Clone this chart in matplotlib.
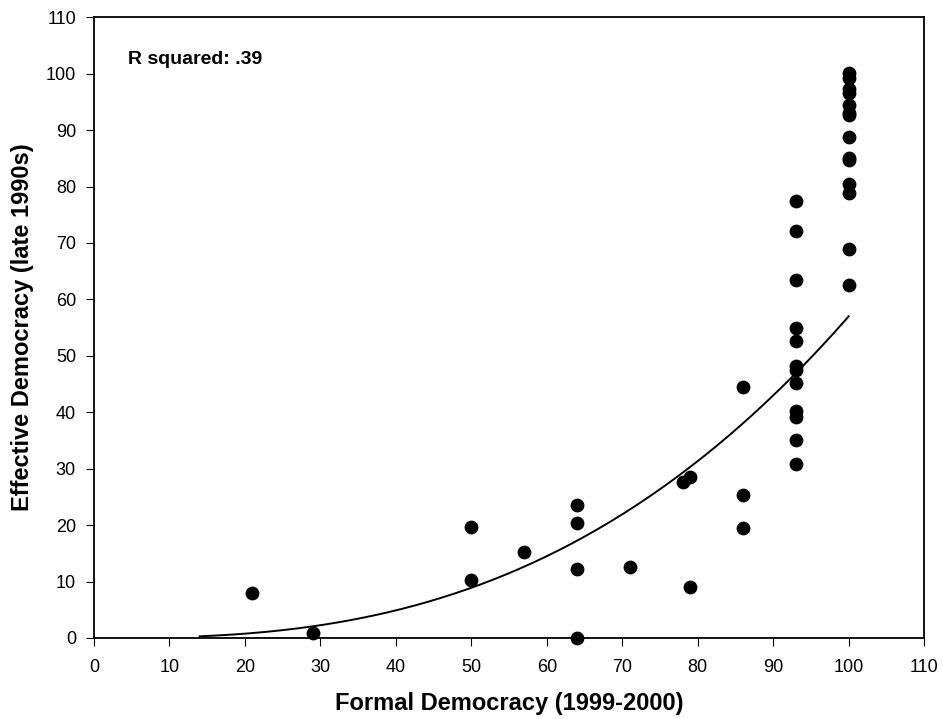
import numpy as np
import matplotlib
matplotlib.use('Agg')
import matplotlib.pyplot as plt

plt.rcParams['font.family'] = ['Liberation Sans', 'DejaVu Sans']

formal = [21, 29, 50, 50, 57, 64, 64, 64, 64, 71, 78, 79, 79, 86, 86, 86,
          93, 93, 93, 93, 93, 93, 93, 93, 93, 93, 93, 93,
          100, 100, 100, 100, 100, 100, 100, 100, 100, 100, 100, 100, 100, 100]
effective = [8.0, 0.8, 19.7, 10.2, 15.2, 23.5, 20.4, 12.2, 0.0, 12.5, 27.6, 28.6, 9.1, 44.5, 25.3, 19.4,
             77.4, 72.2, 63.4, 55.0, 52.7, 48.2, 47.5, 45.1, 40.3, 39.2, 35.1, 30.9,
             100.2, 99.2, 97.2, 96.6, 94.4, 93.0, 92.6, 88.7, 85.0, 84.7, 80.4, 78.8, 69.0, 62.5]

# power-curve trend, y = a * (x/100)^b
fit_a = 57.0
fit_b = 2.68
fit_start, fit_end = 14, 100

fig = plt.figure(figsize=(9.43, 7.19), dpi=100)
ax = fig.add_axes([0.0997, 0.1127, 0.8803, 0.8633])

xs = np.linspace(fit_start, fit_end, 200)
ax.plot(xs, fit_a * (xs / 100) ** fit_b, color='black', lw=1.4)
ax.scatter(formal, effective, s=80, color='black', zorder=3, clip_on=False)

ax.set_xlim(0, 110)
ax.set_ylim(0, 110)
ax.set_xticks(range(0, 111, 10))
ax.set_yticks(range(0, 111, 10))
ax.tick_params(direction='out', length=6, labelsize=13)
ax.tick_params(axis='x', pad=9)
ax.tick_params(axis='y', pad=7)
for s in ax.spines.values():
    s.set_linewidth(1.3)

ax.set_xlabel('Formal Democracy (1999-2000)', fontsize=17, fontweight='bold')
ax.set_ylabel('Effective Democracy (late 1990s)', fontsize=17, fontweight='bold')
ax.xaxis.set_label_coords(0.5, -0.087)
ax.yaxis.set_label_coords(-0.072, 0.5)
ax.text(4.5, 102.6, 'R squared: .39', fontsize=14, fontweight='bold', va='center')

fig.savefig('out.png', dpi=100)
